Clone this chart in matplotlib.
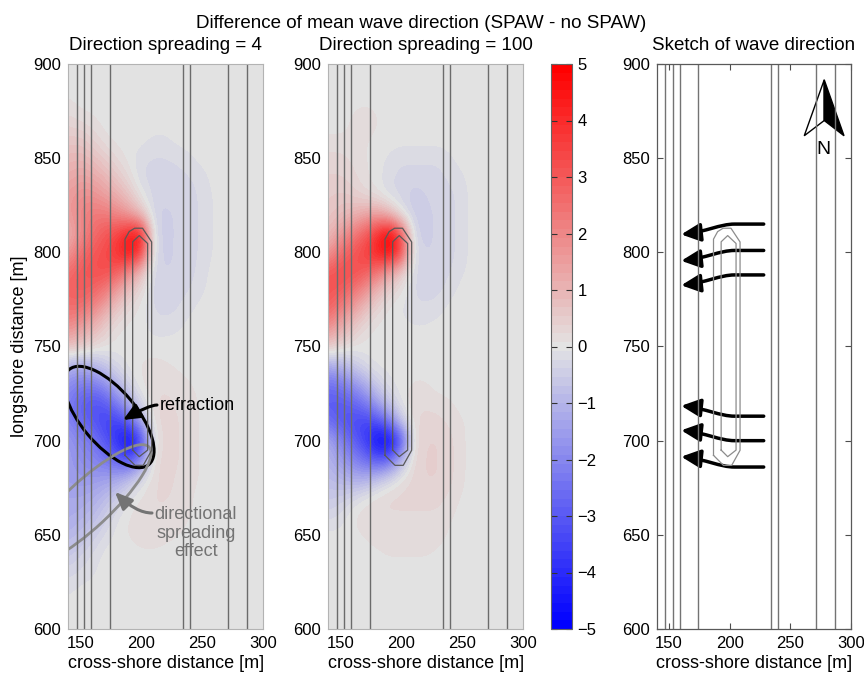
import numpy as np
import matplotlib
matplotlib.use('Agg')
import matplotlib.pyplot as plt
from matplotlib.colors import LinearSegmentedColormap
from matplotlib.patches import Ellipse, Polygon, FancyArrowPatch
from matplotlib.path import Path
from matplotlib.transforms import ScaledTranslation

plt.rcParams['font.family'] = ['Liberation Sans', 'DejaVu Sans']

# ---------------- data ----------------
x_cols = [140, 150, 160, 170, 180, 190, 200, 210, 220, 230, 240, 250, 260]
y_rows = [880, 870, 860, 850, 840, 830, 820, 810, 800, 790, 780, 770, 760, 750,
          740, 730, 720, 710, 700, 690, 680, 670, 660, 650, 640, 630, 620]

diff_spread4 = [
    [0.1, 0, 0, 0, 0, 0, 0, 0, 0, 0, 0, 0, 0],
    [0.3, 0.2, 0.1, 0, 0, 0, 0, 0, 0, 0, 0, 0, 0],
    [0.6, 0.6, 0.4, 0.1, 0, 0, 0, -0.1, -0.1, 0, 0, 0, 0],
    [0.9, 1.0, 0.8, 0.5, 0.2, 0, -0.2, -0.25, -0.25, -0.2, -0.1, 0, 0],
    [1.2, 1.4, 1.3, 1.0, 0.6, 0.2, -0.25, -0.3, -0.3, -0.3, -0.25, -0.15, 0],
    [1.5, 1.8, 1.8, 1.5, 1.2, 0.7, 0.0, -0.3, -0.35, -0.3, -0.3, -0.2, -0.05],
    [1.5, 2.0, 2.3, 2.3, 2.0, 1.6, 0.8, -0.35, -0.45, -0.35, -0.3, -0.2, -0.05],
    [1.0, 1.8, 2.5, 3.0, 3.4, 4.2, 4.5, -0.3, -0.45, -0.35, -0.3, -0.2, -0.05],
    [1.5, 2.5, 3.0, 3.3, 3.8, 4.8, 3.8, -0.25, -0.45, -0.35, -0.3, -0.2, -0.05],
    [2.5, 3.0, 3.2, 3.3, 3.0, 2.0, 0.8, -0.3, -0.4, -0.35, -0.3, -0.15, 0],
    [2.8, 3.0, 2.8, 2.3, 1.5, 0.7, 0.2, -0.3, -0.35, -0.3, -0.25, -0.1, 0],
    [2.5, 2.5, 2.0, 1.3, 0.6, 0.2, 0, -0.25, -0.3, -0.25, -0.1, 0, 0],
    [1.8, 1.5, 1.0, 0.5, 0.1, 0, 0, -0.15, -0.15, -0.1, 0, 0, 0],
    [0.8, 0.6, 0.3, 0.1, 0, 0, 0, 0, 0, 0, 0, 0, 0],
    [-1.0, -1.2, -1.0, -0.6, -0.2, 0, 0.1, 0.15, 0.1, 0.05, 0, 0, 0],
    [-1.8, -2.2, -2.2, -1.8, -1.0, -0.3, 0.1, 0.2, 0.2, 0.15, 0.1, 0, 0],
    [-2.2, -2.8, -3.2, -3.0, -2.2, -1.2, -0.2, 0.2, 0.3, 0.2, 0.15, 0.05, 0],
    [-2.0, -2.6, -3.0, -3.5, -3.6, -3.0, -1.2, 0.2, 0.3, 0.25, 0.15, 0.05, 0],
    [-1.5, -2.0, -2.3, -3.0, -3.9, -4.9, -3.8, 0.0, 0.3, 0.25, 0.15, 0.05, 0],
    [-1.5, -1.8, -2.0, -2.3, -2.8, -3.3, -1.8, 0.2, 0.3, 0.25, 0.15, 0.05, 0],
    [-1.5, -1.6, -1.6, -1.5, -1.3, -0.8, -0.2, 0.2, 0.3, 0.2, 0.15, 0.05, 0],
    [-1.3, -1.3, -1.2, -0.9, -0.5, -0.1, 0.1, 0.25, 0.25, 0.2, 0.1, 0, 0],
    [-1.2, -1.1, -0.9, -0.5, -0.1, 0.1, 0.2, 0.2, 0.2, 0.15, 0.1, 0, 0],
    [-1.0, -0.8, -0.5, -0.2, 0, 0.1, 0.15, 0.15, 0.1, 0.1, 0, 0, 0],
    [-0.6, -0.4, -0.2, 0, 0, 0, 0.05, 0.05, 0.05, 0, 0, 0, 0],
    [-0.3, -0.2, -0.1, 0, 0, 0, 0, 0, 0, 0, 0, 0, 0],
    [-0.1, 0, 0, 0, 0, 0, 0, 0, 0, 0, 0, 0, 0],
]

diff_spread100 = [
    [0, 0, 0, 0, 0, 0, 0, 0, 0, 0, 0, 0, 0],
    [0, 0, 0.1, 0.3, 0.1, 0, 0, 0, 0, 0, 0, 0, 0],
    [0.1, 0.1, 0.1, 0.1, 0, 0, 0, 0, 0, 0, 0, 0, 0],
    [0.3, 0.3, 0.2, 0.1, 0, -0.1, -0.2, -0.2, -0.2, -0.2, -0.1, 0, 0],
    [0.4, 0.4, 0.3, 0.1, 0, -0.2, -0.3, -0.3, -0.3, -0.3, -0.2, -0.1, 0],
    [0.5, 0.6, 0.5, 0.3, 0.1, -0.2, -0.3, -0.5, -0.4, -0.3, -0.3, -0.15, 0],
    [0.6, 0.8, 1.0, 1.3, 1.5, 1.0, 0.0, -0.5, -0.45, -0.35, -0.3, -0.15, 0],
    [0.8, 1.5, 2.2, 2.8, 3.8, 5.0, 3.2, -0.4, -0.45, -0.35, -0.3, -0.15, 0],
    [1.5, 2.5, 3.0, 3.5, 4.2, 5.0, 3.6, -0.2, -0.4, -0.35, -0.3, -0.15, 0],
    [3.0, 3.3, 3.3, 3.0, 2.5, 1.5, 0.5, -0.2, -0.4, -0.35, -0.25, -0.1, 0],
    [3.2, 3.0, 2.5, 1.8, 1.0, 0.4, 0.1, -0.25, -0.3, -0.3, -0.15, 0, 0],
    [2.8, 2.2, 1.5, 0.8, 0.3, 0, -0.1, -0.2, -0.2, -0.15, 0, 0, 0],
    [1.8, 1.2, 0.6, 0.2, 0, 0, 0, -0.05, -0.05, 0, 0, 0, 0],
    [0.6, 0.3, 0.1, 0, 0, 0, 0, 0, 0, 0, 0, 0, 0],
    [-1.2, -1.0, -0.6, -0.2, 0, 0, 0, 0, 0, 0, 0, 0, 0],
    [-2.5, -2.3, -1.8, -1.2, -0.5, -0.1, 0, 0.1, 0.1, 0, 0, 0, 0],
    [-3.0, -3.0, -2.8, -2.3, -1.5, -0.6, 0, 0.2, 0.2, 0.15, 0.1, 0, 0],
    [-2.5, -3.0, -3.3, -3.5, -3.3, -2.4, -0.6, 0.2, 0.3, 0.3, 0.2, 0.1, 0],
    [-1.2, -2.0, -2.8, -3.5, -4.7, -5.0, -3.4, 0.2, 0.4, 0.4, 0.3, 0.1, 0],
    [-1.0, -1.5, -2.0, -2.5, -3.1, -2.8, -1.0, 0.3, 0.4, 0.4, 0.3, 0.1, 0],
    [-0.8, -1.0, -1.2, -1.2, -0.8, -0.3, 0.1, 0.3, 0.4, 0.4, 0.3, 0.1, 0],
    [-0.6, -0.5, -0.3, 0, 0.2, 0.3, 0.3, 0.3, 0.3, 0.3, 0.2, 0.05, 0],
    [-0.3, -0.2, 0.1, 0.2, 0.2, 0.2, 0.2, 0.2, 0.2, 0.2, 0.1, 0, 0],
    [0, 0, 0, 0.1, 0.15, 0.15, 0.15, 0.15, 0.15, 0.15, 0.05, 0, 0],
    [0, 0, 0, 0, 0.05, 0.1, 0.1, 0.1, 0.1, 0.05, 0, 0, 0],
    [0, 0, 0, 0, 0, 0, 0, 0, 0, 0, 0, 0, 0],
    [0, 0, 0, 0, 0, 0, 0, 0, 0, 0, 0, 0, 0],
]

depth_contour_x = [147, 153, 159, 174, 234, 240, 271.5, 287]
struct_outer_x = [186.6, 186.6, 190.0, 194.5, 201.0, 208.5, 208.5, 201.6, 194.8, 186.6]
struct_outer_y = [692.2, 807.0, 811.0, 812.8, 812.8, 805.5, 694.9, 686.9, 686.9, 692.2]
struct_inner_x = [192.9, 192.9, 198.3, 205.2, 205.2, 198.3, 192.9]
struct_inner_y = [695.0, 805.6, 808.9, 804.7, 695.0, 691.5, 695.0]

wave_start_y_upper = [815, 801, 788]
wave_start_y_lower = [713, 700, 686]
wave_turn_upper = -5.5
wave_turn_lower = 5.5
wave_x_start, wave_x_bend, wave_x_tip = 228, 204, 160

x_ticks = [150, 200, 250, 300]
y_ticks = [600, 650, 700, 750, 800, 850, 900]
cbar_ticks = list(range(-5, 6))

# ---------------- figure ----------------
W, H = 864, 675
fig = plt.figure(figsize=(W / 100, H / 100), dpi=100)

def fax(l, t, r, b):
    return [l / W, 1 - b / H, (r - l) / W, (b - t) / H]

ax1 = fig.add_axes(fax(68.3, 64, 263, 629))
ax2 = fig.add_axes(fax(328.3, 64, 523, 629))
ax3 = fig.add_axes(fax(657, 64, 851, 629))
cax = fig.add_axes(fax(551, 64, 572, 629))

zero_c = (0.89, 0.89, 0.89)
cmap = LinearSegmentedColormap.from_list('rgb_div', [(0, 0, 1), zero_c, (1, 0, 0)], N=65)

x_full = np.arange(140, 301, 10)
y_full = np.arange(600, 901, 10)

def build_field(block):
    Z = np.zeros((len(y_full), len(x_full)))
    for r, yv in enumerate(y_rows):
        iy = int(np.where(y_full == yv)[0][0])
        for c, xv in enumerate(x_cols):
            ix = int(np.where(x_full == xv)[0][0])
            Z[iy, ix] = block[r][c]
    return Z

line_c = (0.42, 0.42, 0.42)

def draw_structure(ax, color, lw):
    ax.plot(struct_outer_x, struct_outer_y, color=color, lw=lw)
    ax.plot(struct_inner_x, struct_inner_y, color=color, lw=lw)

im = None
for ax, block in [(ax1, diff_spread4), (ax2, diff_spread100)]:
    Z = build_field(block)
    im = ax.imshow(Z, origin='lower', extent=[135, 305, 595, 905], cmap=cmap,
                   vmin=-5, vmax=5, interpolation='bicubic',
                   interpolation_stage='data', aspect='auto')
    for xv in depth_contour_x:
        ax.axvline(xv, color=line_c, lw=1.0)
    draw_structure(ax, (0.35, 0.35, 0.35), 0.9)
    ax.set_xlim(140, 300)
    ax.set_ylim(600, 900)
    for s in ax.spines.values():
        s.set_color((0.7, 0.7, 0.7))
        s.set_linewidth(0.8)
    ax.tick_params(length=0, labelsize=12, pad=5)
    ax.set_xticks(x_ticks)
    ax.set_yticks(y_ticks)
    ax.set_xlabel('cross-shore distance [m]', fontsize=13, labelpad=3)

ax1.set_ylabel('longshore distance [m]', fontsize=13, labelpad=4)

# sketch panel
for xv in depth_contour_x:
    ax3.axvline(xv, color=(0.45, 0.45, 0.45), lw=1.0)
draw_structure(ax3, (0.55, 0.55, 0.55), 0.9)
ax3.set_xlim(140, 300)
ax3.set_ylim(600, 900)
ax3.set_xticks(x_ticks)
ax3.set_yticks(y_ticks)
ax3.tick_params(direction='in', top=True, right=True, length=4, labelsize=12,
                pad=5, color=(0.3, 0.3, 0.3))
for s in ax3.spines.values():
    s.set_color((0.35, 0.35, 0.35))
    s.set_linewidth(0.9)
ax3.set_xlabel('cross-shore distance [m]', fontsize=13, labelpad=3)

for y0, dy in [(y, wave_turn_upper) for y in wave_start_y_upper] + \
              [(y, wave_turn_lower) for y in wave_start_y_lower]:
    verts = [(wave_x_start, y0), (wave_x_bend, y0),
             (wave_x_bend - 12, y0), (wave_x_bend - 24, y0 + 0.75 * dy),
             (wave_x_tip, y0 + dy)]
    codes = [Path.MOVETO, Path.LINETO, Path.CURVE4, Path.CURVE4, Path.CURVE4]
    arr = FancyArrowPatch(path=Path(verts, codes),
                          arrowstyle='-|>,head_length=1.15,head_width=0.55',
                          mutation_scale=10, lw=2.5, color='k',
                          shrinkA=0, shrinkB=0)
    ax3.add_patch(arr)

# north arrow
ax3.add_patch(Polygon([(0.862, 0.972), (0.759, 0.873), (0.862, 0.90)],
                      closed=True, facecolor='white', edgecolor='k', lw=1.0,
                      transform=ax3.transAxes))
ax3.add_patch(Polygon([(0.862, 0.972), (0.964, 0.873), (0.862, 0.90)],
                      closed=True, facecolor='k', edgecolor='k', lw=1.0,
                      transform=ax3.transAxes))
ax3.text(0.858, 0.848, 'N', transform=ax3.transAxes, ha='center', va='center',
         fontsize=14)

# colorbar
cb = fig.colorbar(im, cax=cax, ticks=cbar_ticks)
cb.ax.tick_params(direction='in', left=True, right=True, length=4,
                  labelsize=12, color=(0.2, 0.2, 0.2), pad=4)
cb.outline.set_edgecolor((0.4, 0.4, 0.4))
cb.outline.set_linewidth(0.8)

# annotations on panel 1
def px2data(px, py):
    return 140 + (px - 68.3) / 1.2169, 900 - (py - 64) / 1.8833

cx, cy = px2data(109, 417)
e1 = Ellipse((0, 0), 1.24, 0.55, angle=-50, fill=False, edgecolor='k', lw=2.2,
             transform=fig.dpi_scale_trans + ScaledTranslation(cx, cy, ax1.transData))
ax1.add_patch(e1)
gx, gy = px2data(86.9, 505)
e2 = Ellipse((0, 0), 1.70, 0.46, angle=43, fill=False,
             edgecolor=(0.55, 0.55, 0.55), lw=2.0,
             transform=fig.dpi_scale_trans + ScaledTranslation(gx, gy, ax1.transData))
ax1.add_patch(e2)

tx, ty = px2data(160, 405)
ax1.text(tx, ty, 'refraction', fontsize=13, ha='left', va='center', color='k')
ax1.annotate('', xy=px2data(123, 420), xytext=px2data(157, 405),
             arrowprops=dict(arrowstyle='-|>,head_length=0.8,head_width=0.35',
                             connectionstyle='angle3,angleA=0,angleB=30',
                             color='k', lw=2.2, shrinkA=0, shrinkB=0,
                             mutation_scale=13))
gcol = (0.45, 0.45, 0.45)
dx_, dy_ = px2data(196, 533)
ax1.text(dx_, dy_, 'directional\nspreading\neffect', fontsize=13, ha='center',
         va='center', color=gcol, linespacing=1.1)
ax1.annotate('', xy=px2data(115, 492), xytext=px2data(152, 513),
             arrowprops=dict(arrowstyle='-|>,head_length=0.8,head_width=0.35',
                             connectionstyle='angle3,angleA=0,angleB=-45',
                             color=gcol, lw=2.2, shrinkA=0, shrinkB=0,
                             mutation_scale=13))

# titles
fig.text(421 / W, 1 - 23 / H, 'Difference of mean wave direction (SPAW - no SPAW)',
         ha='center', va='center', fontsize=13.5)
fig.text(165.6 / W, 1 - 45 / H, 'Direction spreading = 4', ha='center', va='center', fontsize=13.5)
fig.text(425.6 / W, 1 - 45 / H, 'Direction spreading = 100', ha='center', va='center', fontsize=13.5)
fig.text(754 / W, 1 - 45 / H, 'Sketch of wave direction', ha='center', va='center', fontsize=13.5)

fig.savefig('out.png', dpi=100)
